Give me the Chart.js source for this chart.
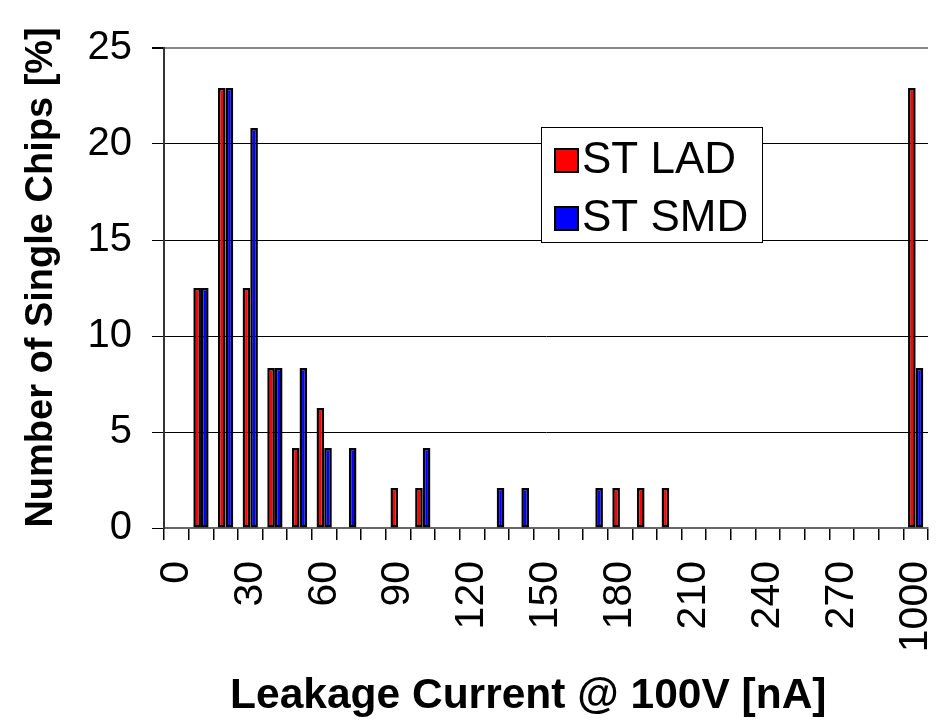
<!DOCTYPE html>
<html>
<head>
<meta charset="utf-8">
<script src="https://cdn.jsdelivr.net/npm/chart.js@4/dist/chart.umd.min.js"></script>
<style>
  html, body { margin: 0; padding: 0; background: #fff; }
  #wrap { width: 944px; height: 722px; position: relative; }
</style>
</head>
<body>
<div id="wrap"><canvas id="c" width="944" height="722"></canvas></div>
<script>
// Leakage current bins [nA]
const categories = ['0','10','20','30','40','50','60','70','80','90','100','110','120','130','140','150','160','170','180','190','200','210','220','230','240','250','260','270','280','290','1000'];
// Number of single chips [%]
const ladValues = [0,12.5,22.92,12.5,8.33,4.17,6.25,0,0,2.08,2.08,0,0,0,0,0,0,0,2.08,2.08,2.08,0,0,0,0,0,0,0,0,0,22.92];
const smdValues = [0,12.5,22.92,20.83,8.33,8.33,4.17,4.17,0,0,4.17,0,0,2.08,2.08,0,0,2.08,0,0,0,0,0,0,0,0,0,0,0,0,8.33];
const seriesNames = ['ST LAD', 'ST SMD'];
const yMin = 0, yMax = 25, yStep = 5;
const xTitle = 'Leakage Current @ 100V [nA]';
const yTitle = 'Number of Single Chips [%]';

const FONT = "'Liberation Sans', Arial, sans-serif";

const legendPlugin = {
  id: 'boxLegend',
  afterDraw(chart) {
    const ctx = chart.ctx;
    ctx.save();
    const bx = 541.5, by = 127.5, bw = 221, bh = 115;
    ctx.fillStyle = '#fff';
    ctx.fillRect(bx, by, bw, bh);
    ctx.strokeStyle = '#000';
    ctx.lineWidth = 1;
    ctx.strokeRect(bx, by, bw, bh);
    ctx.font = '44px ' + FONT;
    ctx.textBaseline = 'middle';
    ctx.textAlign = 'left';
    chart.data.datasets.forEach((ds, i) => {
      const cy = 160 + i * 58;
      ctx.fillStyle = ds.backgroundColor;
      ctx.fillRect(555, cy - 11, 23, 23);
      ctx.strokeStyle = '#000';
      ctx.lineWidth = 2;
      ctx.strokeRect(555, cy - 11, 23, 23);
      ctx.fillStyle = '#000';
      ctx.fillText(ds.label, 582, cy + 1);
    });
    ctx.restore();
  }
};

new Chart(document.getElementById('c'), {
  type: 'bar',
  data: {
    labels: categories,
    datasets: [
      { label: seriesNames[0], data: ladValues, backgroundColor: '#ff0000', borderColor: '#000', borderWidth: 2.5, borderSkipped: false },
      { label: seriesNames[1], data: smdValues, backgroundColor: '#0000ff', borderColor: '#000', borderWidth: 2.5, borderSkipped: false }
    ]
  },
  options: {
    responsive: false,
    animation: false,
    devicePixelRatio: 1,
    layout: { padding: { left: 0, top: 48, right: 16, bottom: 0 } },
    datasets: { bar: { categoryPercentage: 0.62, barPercentage: 1.0 } },
    plugins: { legend: { display: false }, tooltip: { enabled: false } },
    scales: {
      x: {
        offset: true,
        afterFit(s) { s.height = 194; s.paddingLeft = 0; s.paddingRight = 0; },
        grid: {
          offset: true,
          drawOnChartArea: true,
          color: (c) => (c.index === categories.length ? '#888' : 'rgba(0,0,0,0)'),
          tickColor: '#000',
          tickLength: 12,
          lineWidth: 1.5
        },
        border: { color: '#666', width: 2 },
        ticks: {
          autoSkip: false,
          minRotation: 90,
          maxRotation: 90,
          padding: 21,
          color: '#000',
          font: { family: FONT, size: 41 },
          callback: function (v, i) { return i % 3 === 0 ? categories[i] : ''; }
        },
        title: {
          display: true,
          text: xTitle + '   ',
          color: '#000',
          font: { family: FONT, size: 42.5, weight: 'bold', lineHeight: 1.2 },
          padding: { top: 0, bottom: 0 }
        }
      },
      y: {
        min: yMin, max: yMax,
        afterFit(s) { s.width = 164; s.paddingTop = 0; s.paddingBottom = 0; },
        grid: {
          color: (c) => (c.tick && c.tick.value === yMax ? '#888' : '#000'),
          lineWidth: (c) => (c.tick && c.tick.value === yMax ? 2 : 1),
          tickColor: '#000',
          tickLength: 12
        },
        border: { color: '#333', width: 2 },
        ticks: {
          stepSize: yStep,
          padding: 20,
          color: '#000',
          font: { family: FONT, size: 40 }
        },
        title: {
          display: true,
          text: '  ' + yTitle,
          color: '#000',
          font: { family: FONT, size: 38, weight: 'bold', lineHeight: 1.2 },
          padding: { top: 19, bottom: 0 }
        }
      }
    }
  },
  plugins: [legendPlugin]
});
</script>
</body>
</html>
